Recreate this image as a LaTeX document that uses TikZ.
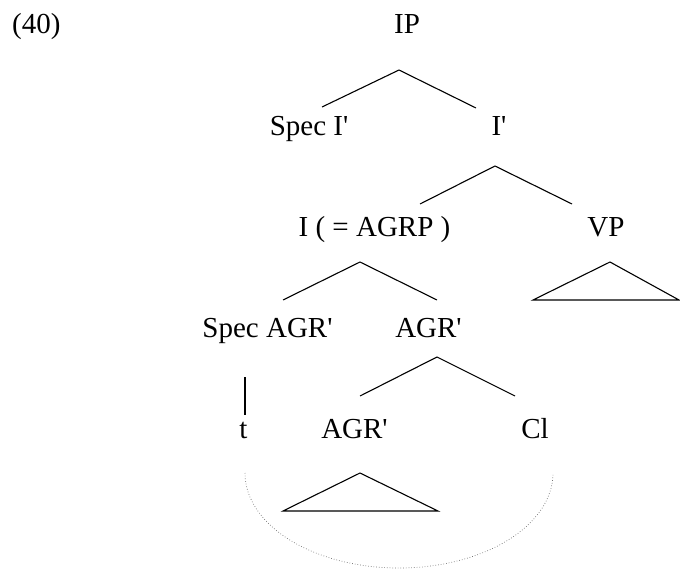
\documentclass[tikz,border=0pt]{standalone}
\usepackage{fontspec}
\setmainfont{Liberation Serif}
\newcommand\bq{\textquotesingle}

\begin{document}
\begin{tikzpicture}[x=1pt, y=-1pt,
  lbl/.style={anchor=base, inner sep=0pt, font=\fontsize{29}{34}\selectfont},
  br/.style={line width=1.1pt},
  mv/.style={dotted, line width=0.7pt, black!55}]
\useasboundingbox (0,0) rectangle (680,570);
% labels
\node[lbl, anchor=base west] (ex) at (12,33) {(40)};
\node[lbl] (ip) at (407,33) {IP};
\node[lbl] (specI) at (309,135) {Spec I\bq};
\node[lbl] (ibar) at (499,135) {I\bq};
\node[lbl] (agrp) at (374.5,236) {I ( = AGRP )};
\node[lbl] (vp) at (606,236) {VP};
\node[lbl] (specA) at (267.5,337) {Spec AGR\bq};
\node[lbl] (abar) at (428.5,337) {AGR\bq};
\node[lbl] (t) at (243.5,438) {t};
\node[lbl] (agr) at (354.5,438) {AGR\bq};
\node[lbl] (cl) at (535,438) {Cl};
% branch points
\coordinate (ipA) at (399,70);   \coordinate (ipL) at (322,107);  \coordinate (ipR) at (476,108);
\coordinate (ibA) at (495,166);  \coordinate (ibL) at (420,204);  \coordinate (ibR) at (572,204);
\coordinate (agA) at (360,262);  \coordinate (agL) at (283,300);  \coordinate (agR) at (437,300);
\coordinate (vpA) at (610,262);  \coordinate (vpL) at (533,300);  \coordinate (vpR) at (679,300);
\coordinate (abA) at (437,357);  \coordinate (abL) at (360,396);  \coordinate (abR) at (515,396);
\coordinate (tT) at (245,377);   \coordinate (tB) at (245,415);
\coordinate (trA) at (360,473);  \coordinate (trL) at (283,511);  \coordinate (trR) at (438,511);
\coordinate (mvL) at (245,473);
% branches
\draw[br] (ipL) -- (ipA) -- (ipR);
\draw[br] (ibL) -- (ibA) -- (ibR);
\draw[br] (agL) -- (agA) -- (agR);
\draw[br] (vpA) -- (vpL) -- (vpR) -- cycle;
\draw[br] (abL) -- (abA) -- (abR);
\draw[br] (tT) -- (tB);
\draw[br] (trA) -- (trL) -- (trR) -- cycle;
% movement
\draw[mv] (mvL) arc[start angle=180, end angle=0, x radius=154, y radius=95];
\end{tikzpicture}
\end{document}
